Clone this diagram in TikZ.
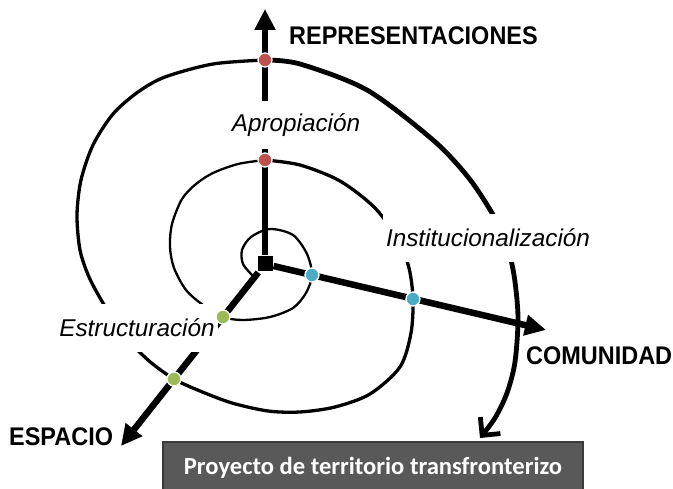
\documentclass[tikz,border=0pt]{standalone}
\usepackage{fontspec}
\setmainfont{Liberation Sans}
\newfontfamily\axisfont[FakeStretch=0.92]{Liberation Sans}
\newfontfamily\boxfont{Carlito}
\usetikzlibrary{arrows.meta}
\definecolor{apropred}{HTML}{C0504D}
\definecolor{instblue}{HTML}{4BACC6}
\definecolor{estrgreen}{HTML}{9BBB59}
\definecolor{boxgray}{HTML}{595959}
\definecolor{boxborder}{HTML}{3A3A3A}
\begin{document}
\begin{tikzpicture}[x=1pt,y=-1pt,
  axis/.style={line width=6.5pt,-{Triangle[length=21pt,width=20pt]}},
  dot/.style={circle,draw=white,line width=1.3pt,inner sep=0pt,minimum size=14pt},
  stage/.style={fill=white,inner xsep=3pt,minimum height=48pt,font=\fontsize{24.3}{28}\selectfont\itshape},
  dimension/.style={anchor=west,inner sep=0pt,font=\axisfont\bfseries\fontsize{25.5}{28}\selectfont}]
\useasboundingbox (0,0) rectangle (673,489);

% spiral, growing thicker outwards
\draw[line width=2.3pt] plot[smooth] coordinates {(253,276) (243,264) (242,250) (251,237) (270,229) (293,235) (307,254) (312,275) (306,293) (293,308) (270,317) (243,320) (223,317) (203,305) (186,290) (174,268) (170,247) (172,224) (182,199) (196,184) (213,173) (238,164) (265,160)};
\draw[line width=3.3pt] plot[smooth] coordinates {(265,160) (300,165) (340,181) (375,208) (398,240) (409,268) (413,299) (411,333) (400,367) (370,394) (335,407) (300,412) (268,411) (232,403) (200,391) (174,379) (148,360) (122,333) (103,303) (89,277) (80,250) (77,215) (81,180) (93,145) (113,114) (138,92) (165,77) (213,64) (265,60)};
\draw[line width=4.8pt,-{Straight Barb[length=13pt,width=26pt]}] plot[smooth] coordinates {(265,60) (300,64) (367,90) (433,140) (468,177) (492,213) (506,242) (514,275) (518,317) (515,362) (507,393) (495,418) (480,438)};

% axes
\node[fill=black,draw=white,line width=1pt,inner sep=0pt,minimum size=16pt] (origin) at (265,264) {};
\coordinate (repr) at (265,9);
\coordinate (comu) at (546,330);
\coordinate (espa) at (121,446);
\draw[axis] (origin) -- (repr);
\draw[axis] (origin) -- (comu);
\draw[axis] (origin) -- (espa);

\node[dimension] (reprlabel) at (289,36) {REPRESENTACIONES};
\node[dimension] (comulabel) at (526,356) {COMUNIDAD};
\node[dimension] (espalabel) at (9,437) {ESPACIO};

% stages
\node[stage] (apro) at (296,125) {Apropiación};
\node[stage] (inst) at (488,238) {Institucionalización};
\node[stage] (estr) at (137,328) {Estructuración};

\node[dot,fill=apropred] (apro1) at (265,160) {};
\node[dot,fill=apropred] (apro2) at (265,60) {};
\node[dot,fill=instblue] (inst1) at (312,275) {};
\node[dot,fill=instblue] (inst2) at (413,299) {};
\node[dot,fill=estrgreen] (estr1) at (223,317) {};
\node[dot,fill=estrgreen] (estr2) at (174,379) {};

\node[draw=boxborder,fill=boxgray,line width=1.5pt,minimum width=420pt,minimum height=52pt,text=white,
  font=\boxfont\bfseries\fontsize{24.6}{28}\selectfont] (proyecto) at (373,468) {Proyecto de territorio transfronterizo};
\end{tikzpicture}
\end{document}
